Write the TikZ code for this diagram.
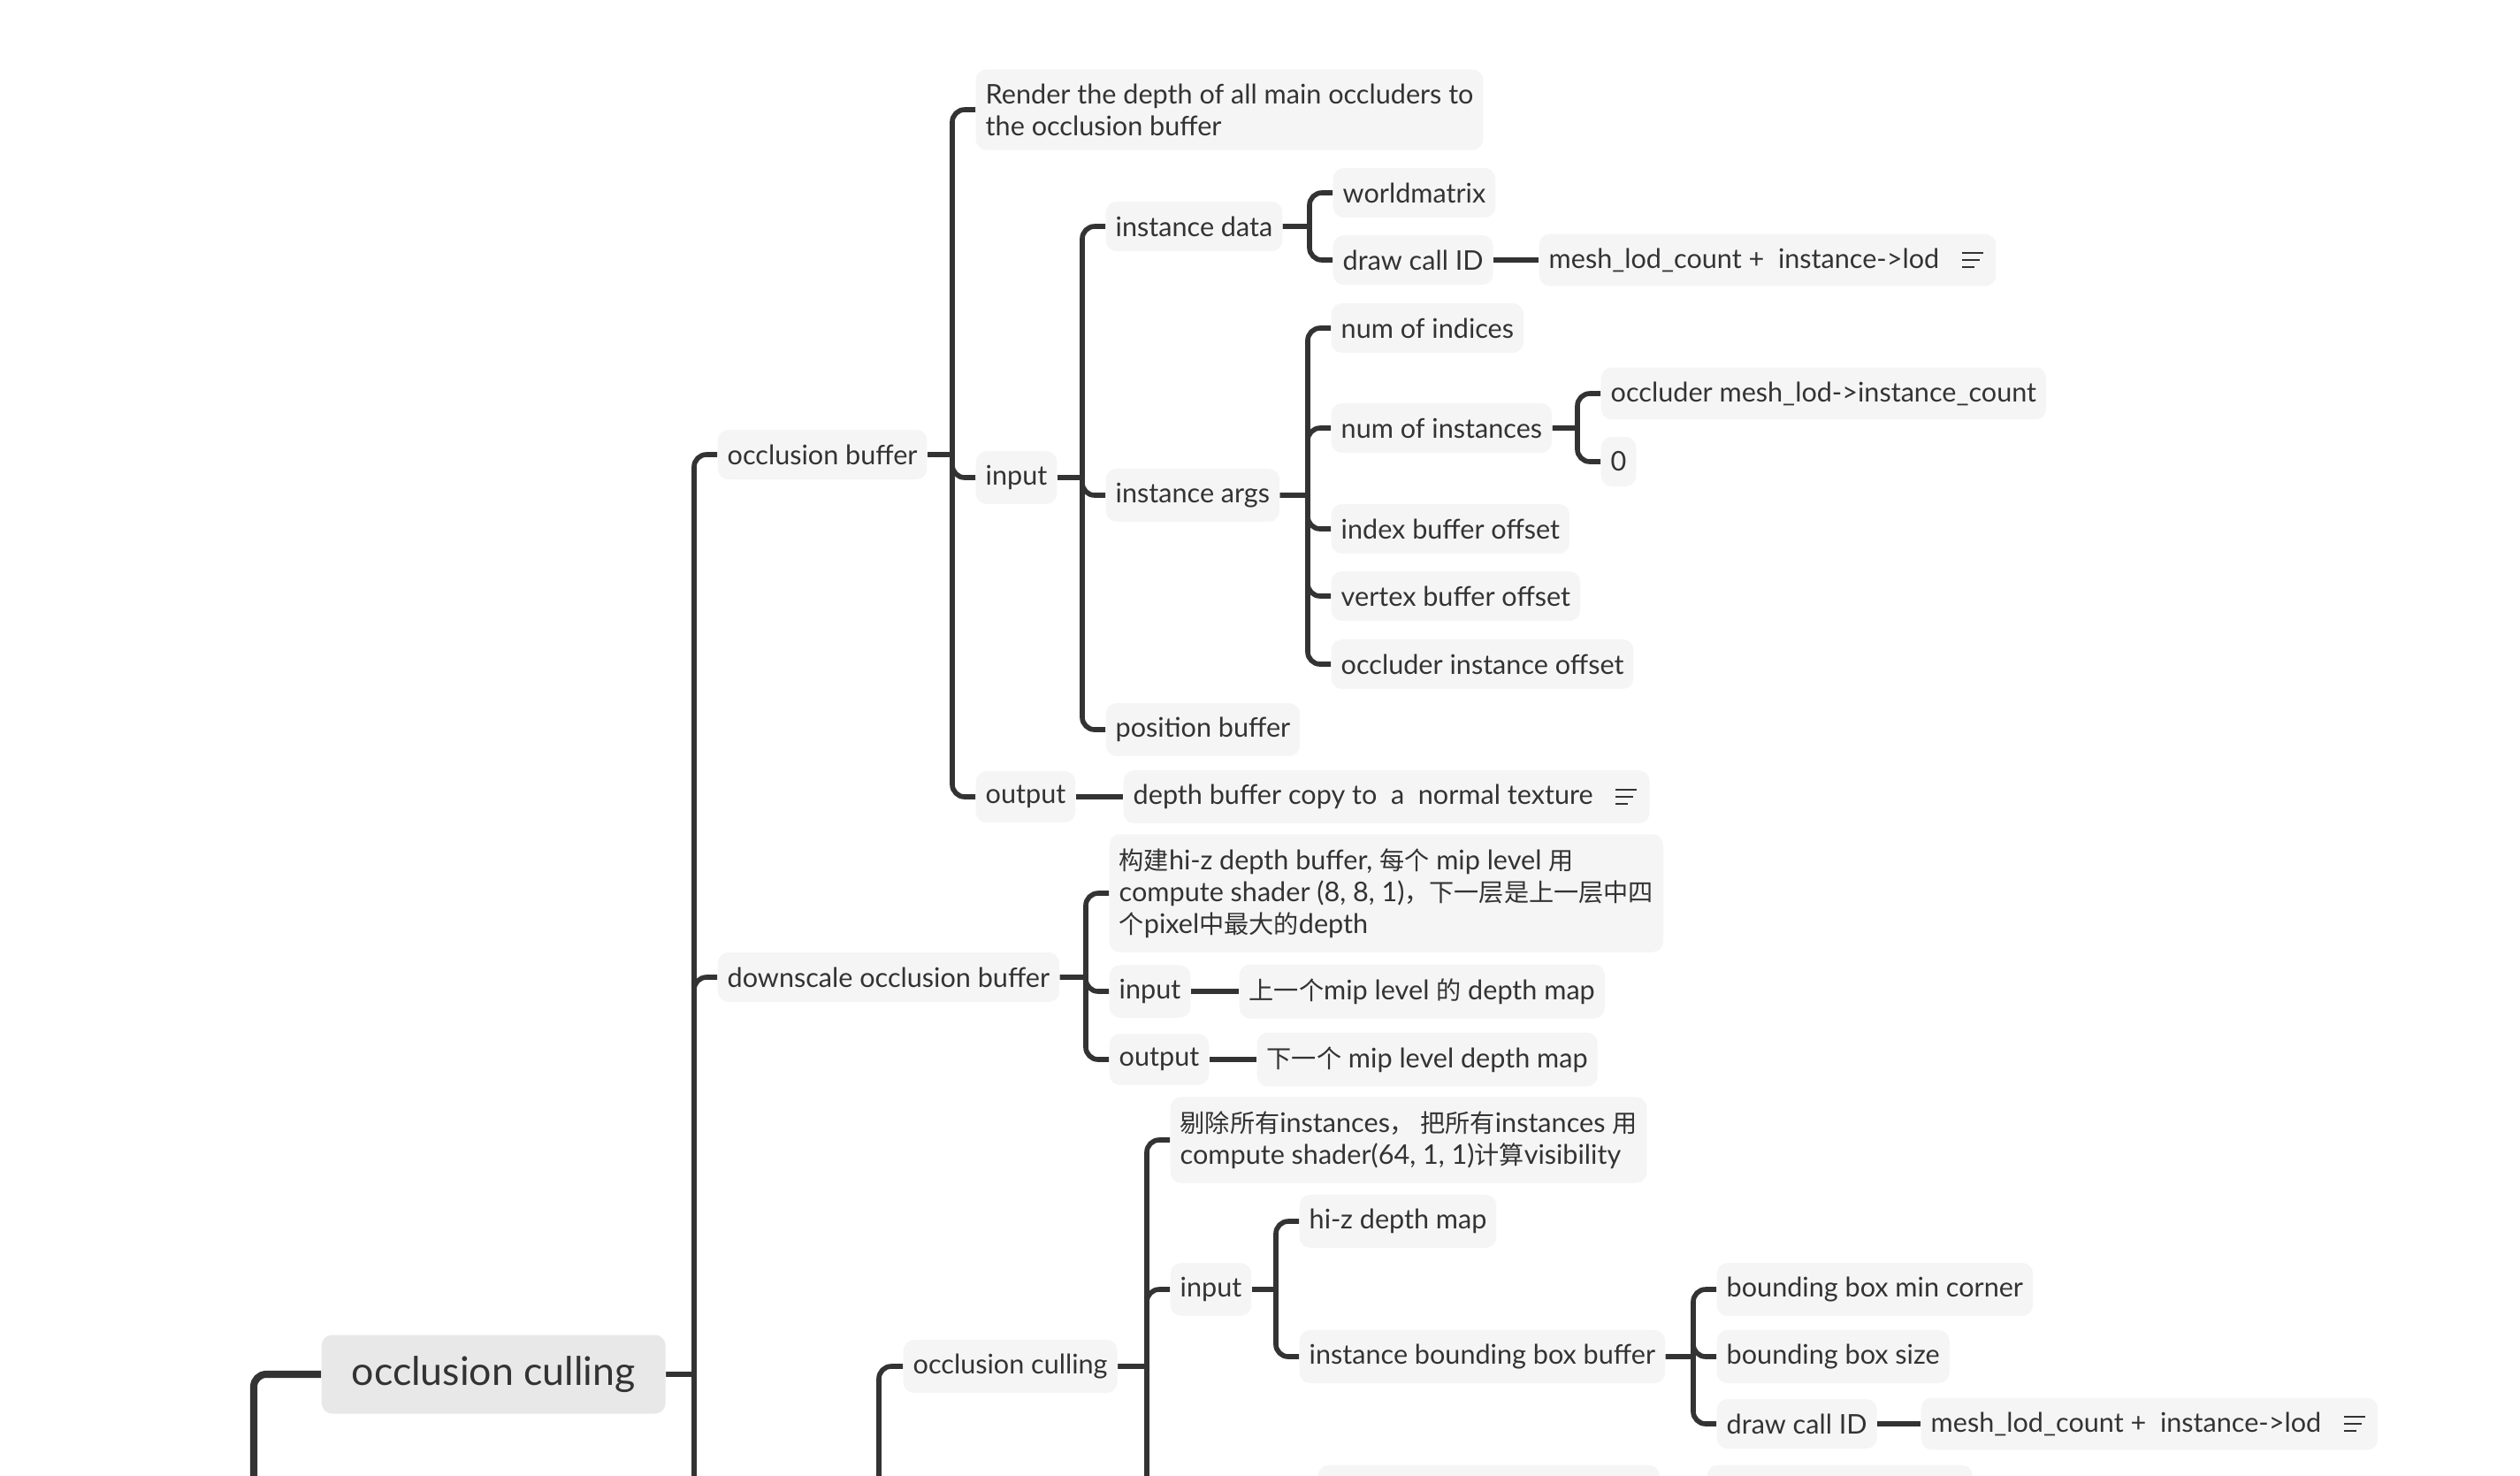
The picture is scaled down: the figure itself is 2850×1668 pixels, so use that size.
\documentclass[tikz,border=0pt]{standalone}
\usepackage{fontspec}
\setmainfont{Lato}
\newfontfamily\cjk[Scale=0.92]{Noto Sans CJK SC}
\usetikzlibrary{positioning}
\definecolor{linegray}{HTML}{333333}
\definecolor{boxgray}{HTML}{F5F5F5}
\definecolor{rootgray}{HTML}{E8E8E8}
\tikzset{
  topic/.style={fill=boxgray, rounded corners=1.2mm, anchor=west, align=left,
    inner xsep=1.1mm, inner ysep=1.6mm, minimum height=5.6mm, text=linegray,
    font=\fontsize{8.7pt}{10.3pt}\selectfont},
  root/.style={topic, fill=rootgray, inner xsep=3.4mm, minimum height=8.9mm,
    font=\fontsize{12.7pt}{14pt}\selectfont},
  branch/.style={draw=linegray, line width=1.6pt, rounded corners=1.4mm},
  trunk/.style={branch, line width=2.3pt},
  notemark/.style={draw=linegray, line width=0.5pt},
}

\begin{document}
\begin{tikzpicture}[x=0.01cm, y=-0.01cm]
    \useasboundingbox (0,0) rectangle (2850,1668);
    \clip (0,0) rectangle (2850,1668);

    \node[root] (root) at (363,1554) {occlusion culling};

    % occlusion buffer
    \node[topic] (ob) at (811,514) {occlusion buffer};
    \node[topic] (render) at (1103,124) {Render the depth of all main occluders to\\the occlusion buffer};
    \node[topic] (obin) at (1103,540) {input};
    \node[topic] (obout) at (1103,901) {output};
    \node[topic] (idata) at (1250,256) {instance data};
    \node[topic] (iargs) at (1250,560) {instance args};
    \node[topic] (posbuf) at (1250,825) {position buffer};
    \node[topic] (worldm) at (1507,218) {worldmatrix};
    \node[topic] (dcid) at (1507,294) {draw call ID};
    \node[topic] (lodA) at (1740,294) {mesh\_lod\_count +~~instance->lod\hspace{5.3mm}};
    \node[topic] (numidx) at (1505,371) {num of indices};
    \node[topic] (numinst) at (1505,484) {num of instances};
    \node[topic] (ibo) at (1505,598) {index buffer offset};
    \node[topic] (vbo) at (1505,674) {vertex buffer offset};
    \node[topic] (oio) at (1505,751) {occluder instance offset};
    \node[topic] (occmesh) at (1810,445) {occluder mesh\_lod->instance\_count};
    \node[topic] (zero) at (1810,522) {0};
    \node[topic] (dbcopy) at (1270,901) {depth buffer copy to~~a~~normal texture\hspace{5.3mm}};

    % downscale occlusion buffer
    \node[topic] (dob) at (811,1105) {downscale occlusion buffer};
    \node[topic] (build) at (1254,1010) {{\cjk 构建}hi-z depth buffer, {\cjk 每个} mip level {\cjk 用}\\compute shader (8, 8, 1){\cjk ，下一层是上一层中四}\\{\cjk 个}pixel{\cjk 中最大的}depth};
    \node[topic] (dobin) at (1254,1121) {input};
    \node[topic] (dobout) at (1254,1198) {output};
    \node[topic] (prevmip) at (1401,1121) {{\cjk 上一个}mip level {\cjk 的} depth map};
    \node[topic] (nextmip) at (1421,1198) {{\cjk 下一个} mip level depth map};

    % occlusion culling pass
    \node[topic] (oc) at (1021,1545) {occlusion culling};
    \node[topic] (cull) at (1323,1289) {{\cjk 剔除所有}instances{\cjk ，~把所有}instances {\cjk 用}\\compute shader(64, 1, 1){\cjk 计算}visibility};
    \node[topic] (ocin) at (1323,1458) {input};
    \node[topic] (hiz) at (1469,1381) {hi-z depth map};
    \node[topic] (bbbuf) at (1469,1534) {instance bounding box buffer};
    \node[topic] (bbmin) at (1941,1458) {bounding box min corner};
    \node[topic] (bbsize) at (1941,1534) {bounding box size};
    \node[topic] (dcidB) at (1941,1610) {draw call ID};
    \node[topic] (lodB) at (2172,1610) {mesh\_lod\_count +~~instance->lod\hspace{5.3mm}};
    \node[topic, anchor=north west, minimum width=3.86cm, minimum height=1cm] (cutA) at (1490,1656) {}; % cut off by the page
    \node[topic, anchor=north west, minimum width=3cm, minimum height=1cm] (cutB) at (1930,1656) {};

    \coordinate (rootfeed) at (287,1690);
    \coordinate (ocfeed) at (994,1690);
    \coordinate (pageend) at (0,1690);

    \foreach \p/\c in {root/ob, root/dob, ob/render, ob/obin, ob/obout,
        obin/idata, obin/iargs, obin/posbuf, idata/worldm, idata/dcid,
        iargs/numidx, iargs/numinst, iargs/ibo, iargs/vbo, iargs/oio,
        numinst/occmesh, numinst/zero, dob/build, dob/dobin, dob/dobout,
        oc/cull, oc/ocin, ocin/hiz, ocin/bbbuf,
        bbbuf/bbmin, bbbuf/bbsize, bbbuf/dcidB}
      \draw[branch] (\p.east) -- ([xshift=-2.6mm]\c.west |- \p.east)
                    ([xshift=-2.6mm]\c.west |- \p.east) |- (\c.west);

    \foreach \a/\b in {dcid/lodA, obout/dbcopy, dobin/prevmip, dobout/nextmip, dcidB/lodB}
      \draw[branch] (\a.east) -- (\b.west);

    % lines running on below the page
    \draw[trunk] (rootfeed) |- (root.west);
    \draw[branch] ([xshift=-2.6mm]ob.west |- root.east) -- ([xshift=-2.6mm]ob.west |- pageend);
    \draw[branch] (ocfeed) |- (oc.west);
    \draw[branch] ([xshift=-2.6mm]cull.west |- oc.east) -- ([xshift=-2.6mm]cull.west |- pageend);

    \foreach \n in {lodA, lodB, dbcopy}
      \draw[notemark] ([xshift=-3.9mm,yshift=0.8mm]\n.east) -- ++(2.4mm,0)
                      ([xshift=-3.9mm]\n.east) -- ++(2.0mm,0)
                      ([xshift=-3.9mm,yshift=-0.8mm]\n.east) -- ++(1.4mm,0);
\end{tikzpicture}
\end{document}
